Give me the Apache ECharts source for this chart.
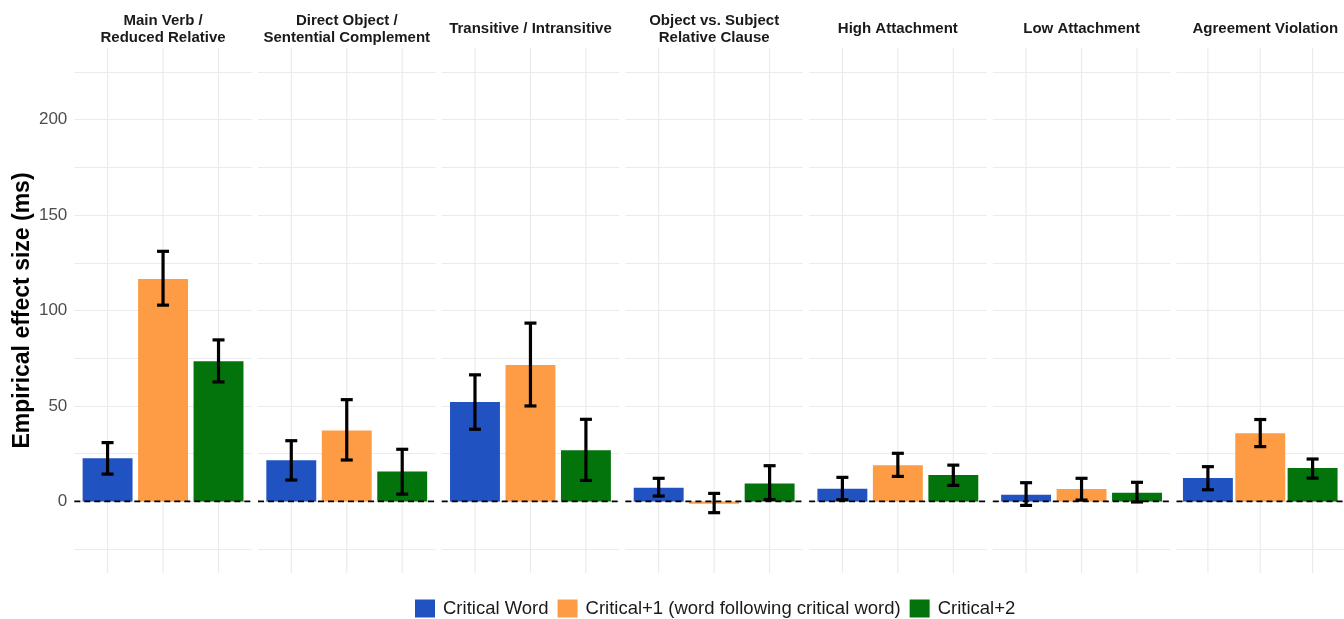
<!DOCTYPE html>
<html>
<head>
<meta charset="utf-8">
<script src="https://cdn.jsdelivr.net/npm/echarts@6/dist/echarts.min.js"></script>
<style>
  html, body { margin: 0; padding: 0; background: #ffffff; }
  #chart { width: 1344px; height: 619px; }
</style>
</head>
<body>
<div id="chart"></div>
<script>
// Facet panels (one per sentence construction)
const panels = [
  'Main Verb /\nReduced Relative',
  'Direct Object /\nSentential Complement',
  'Transitive / Intransitive',
  'Object vs. Subject\nRelative Clause',
  'High Attachment',
  'Low Attachment',
  'Agreement Violation'
];

// Word positions (bars within each panel)
const positions = ['Critical Word', 'Critical+1 (word following critical word)', 'Critical+2'];

// Effect sizes (ms) and error-bar bounds, one entry per panel
const criticalWord   = [22.6, 21.5, 52.1, 7.2, 6.6, 3.5, 12.2];
const criticalWordLo = [14.3, 11.2, 37.8, 2.8, 0.9, -2.1, 6.1];
const criticalWordHi = [30.8, 31.8, 66.3, 12.1, 12.6, 9.8, 18.2];

const critical1   = [116.5, 37.1, 71.4, -1.2, 18.9, 6.5, 35.7];
const critical1Lo = [102.8, 21.7, 50.0, -5.9, 13.1, 0.7, 28.7];
const critical1Hi = [131.0, 53.3, 93.4, 4.2, 25.2, 12.1, 42.9];

const critical2   = [73.4, 15.7, 26.8, 9.4, 13.8, 4.5, 17.5];
const critical2Lo = [62.6, 3.8, 11.0, 1.0, 8.4, -0.3, 12.2];
const critical2Hi = [84.6, 27.3, 43.0, 18.7, 19.0, 10.0, 22.2];

// Y axis labelled ticks
const yTickLabels = [0, 50, 100, 150, 200];

const values = [criticalWord, critical1, critical2];
const lows   = [criticalWordLo, critical1Lo, critical2Lo];
const highs  = [criticalWordHi, critical1Hi, critical2Hi];
const colors = ['#2152C1', '#FD9C45', '#03730C'];

const Y_MIN = -37.5, Y_MAX = 237.5;
const PANEL_LEFT = 74.3, PANEL_STEP = 183.7, PANEL_W = 177.5;
const PANEL_TOP = 48, PANEL_H = 525;
const X_MIN = 0.4, X_MAX = 3.6;
const FONT = '"Liberation Sans", Arial, Helvetica, sans-serif';
const GRID_COLOR = '#EBEBEB';

const grids = [], xAxes = [], yAxes = [], series = [], graphics = [];

panels.forEach((panelName, p) => {
  const left = PANEL_LEFT + p * PANEL_STEP;
  grids.push({ left: left, top: PANEL_TOP, width: PANEL_W, height: PANEL_H, containLabel: false });

  xAxes.push({ type: 'value', gridIndex: p, min: X_MIN, max: X_MAX, show: false });

  yAxes.push({
    type: 'value', gridIndex: p, min: Y_MIN, max: Y_MAX, interval: 12.5,
    axisLine: { show: false }, axisTick: { show: false },
    axisLabel: {
      show: p === 0, margin: 7, fontSize: 17, color: '#4D4D4D', fontFamily: FONT,
      formatter: v => (yTickLabels.indexOf(v) >= 0 ? String(v) : '')
    },
    // grid lines every 25 ms (alternate ticks are kept invisible)
    splitLine: { show: true, lineStyle: { color: ['rgba(0,0,0,0)', GRID_COLOR], width: 1.2 } },
    name: p === 0 ? 'Empirical effect size (ms)' : '',
    nameLocation: 'middle', nameGap: 40,
    nameTextStyle: { fontSize: 23, fontWeight: 'bold', color: '#000000', fontFamily: FONT }
  });

  // vertical grid lines at each word position
  series.push({
    type: 'custom', xAxisIndex: p, yAxisIndex: p, z: 1, silent: true,
    data: [[1, 0], [2, 0], [3, 0]],
    renderItem: (params, api) => {
      const a = api.coord([api.value(0), Y_MAX]);
      const b = api.coord([api.value(0), Y_MIN]);
      return { type: 'line', shape: { x1: a[0], y1: a[1], x2: b[0], y2: b[1] },
               style: { stroke: GRID_COLOR, lineWidth: 1.2 } };
    }
  });

  // bars
  positions.forEach((pos, k) => {
    series.push({
      type: 'bar', name: pos, xAxisIndex: p, yAxisIndex: p, z: 2,
      barWidth: 0.9 * PANEL_W / (X_MAX - X_MIN), barGap: '-100%',
      itemStyle: { color: colors[k] },
      emphasis: { disabled: true },
      data: [[k + 1, values[k][p]]]
    });
  });

  // dashed zero reference line
  series.push({
    type: 'line', xAxisIndex: p, yAxisIndex: p, z: 3, silent: true,
    data: [[X_MIN, 0], [X_MAX, 0]], symbol: 'none',
    lineStyle: { color: '#000000', width: 1.6, type: [6, 4] }
  });

  // error bars
  series.push({
    type: 'custom', xAxisIndex: p, yAxisIndex: p, z: 4, silent: true,
    data: positions.map((_, k) => [k + 1, lows[k][p], highs[k][p]]),
    renderItem: (params, api) => {
      const lo = api.coord([api.value(0), api.value(1)]);
      const hi = api.coord([api.value(0), api.value(2)]);
      const cap = 6;
      const style = { stroke: '#000000', lineWidth: 3.2 };
      return {
        type: 'group',
        children: [
          { type: 'line', shape: { x1: lo[0], y1: lo[1], x2: hi[0], y2: hi[1] }, style: style },
          { type: 'line', shape: { x1: hi[0] - cap, y1: hi[1], x2: hi[0] + cap, y2: hi[1] }, style: style },
          { type: 'line', shape: { x1: lo[0] - cap, y1: lo[1], x2: lo[0] + cap, y2: lo[1] }, style: style }
        ]
      };
    }
  });

  // facet strip label
  graphics.push({
    type: 'text', x: left + PANEL_W / 2, y: 29,
    style: {
      text: panelName, align: 'center', verticalAlign: 'middle',
      font: 'bold 15px ' + FONT, fill: '#1A1A1A', lineHeight: 17
    }
  });
});

const chart = echarts.init(document.getElementById('chart'), null, { renderer: 'canvas' });
chart.setOption({
  animation: false,
  backgroundColor: '#ffffff',
  grid: grids,
  xAxis: xAxes,
  yAxis: yAxes,
  series: series,
  graphic: graphics,
  legend: {
    data: positions,
    left: 415, top: 599, padding: 0,
    itemWidth: 20, itemHeight: 18, itemGap: 9,
    icon: 'rect',
    selectedMode: false,
    textStyle: { fontSize: 18.5, color: '#1A1A1A', fontFamily: FONT, padding: [0, 0, 0, 3] }
  }
});
</script>
</body>
</html>
